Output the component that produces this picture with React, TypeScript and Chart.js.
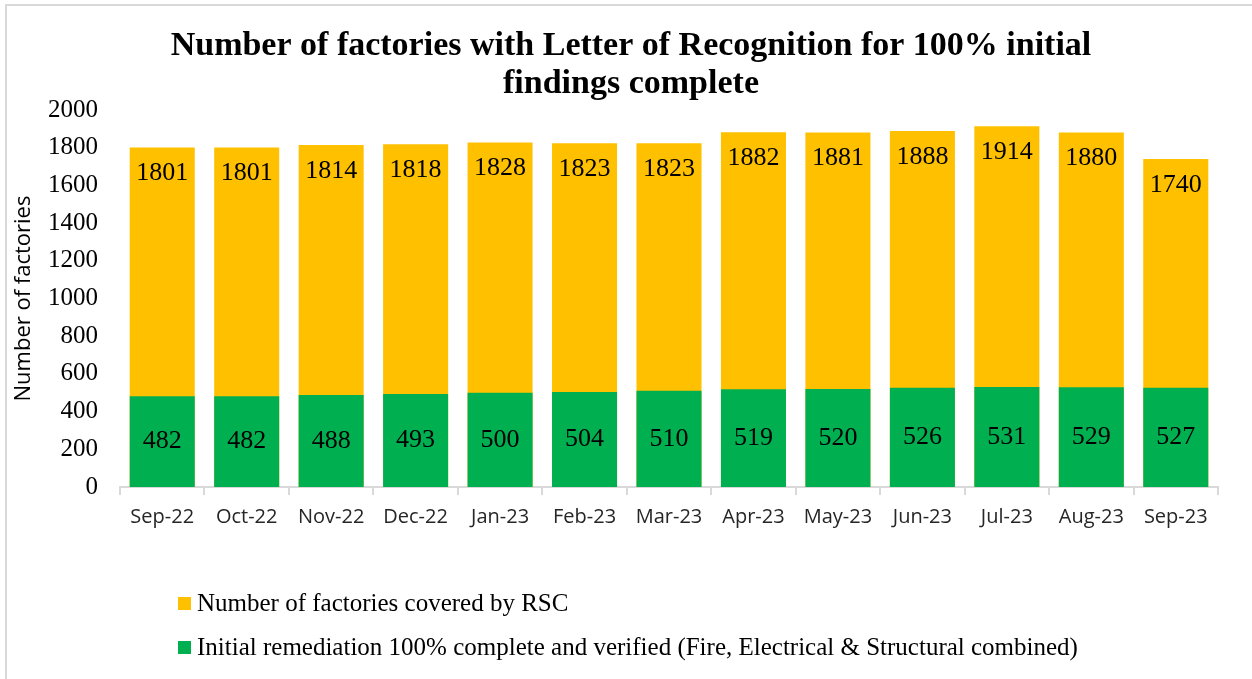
import { useEffect, useRef } from "react";
import { Chart, registerables } from "chart.js";

Chart.register(...registerables);

const categories = [
  "Sep-22", "Oct-22", "Nov-22", "Dec-22", "Jan-23", "Feb-23", "Mar-23",
  "Apr-23", "May-23", "Jun-23", "Jul-23", "Aug-23", "Sep-23",
];
const coveredByRSC = [1801, 1801, 1814, 1818, 1828, 1823, 1823, 1882, 1881, 1888, 1914, 1880, 1740];
const remediationComplete = [482, 482, 488, 493, 500, 504, 510, 519, 520, 526, 531, 529, 527];
const titleLines = [
  "Number of factories with Letter of Recognition for 100% initial",
  "findings complete",
];
const yAxisTitle = "Number of factories";
const legendLabels = [
  "Number of factories covered by RSC",
  "Initial remediation 100% complete and verified (Fire, Electrical & Structural combined)",
];
const YELLOW = "#FFC000";
const GREEN = "#00B050";
const SERIF = '"Liberation Serif", "DejaVu Serif", serif';
const SANS = '"Open Sans", "Noto Sans", sans-serif';

const decorPlugin = {
  id: "decor",
  beforeDraw(chart: any) {
    const ctx = chart.ctx;
    ctx.save();
    ctx.fillStyle = "#ffffff";
    ctx.fillRect(0, 0, chart.width, chart.height);
    ctx.fillStyle = "#d9d9d9";
    ctx.fillRect(5, 4, 2, chart.height - 4);
    ctx.fillRect(5, 4, chart.width - 5, 2);
    ctx.restore();
  },
  afterDraw(chart: any) {
    const ctx = chart.ctx;
    ctx.save();
    // title
    ctx.fillStyle = "#000000";
    ctx.textAlign = "center";
    ctx.textBaseline = "middle";
    ctx.font = `bold 34px ${SERIF}`;
    const cx = 631;
    titleLines.forEach((line, i) => {
      ctx.fillText(line, cx, 46 + i * 38);
    });
    // legend
    const colors = [YELLOW, GREEN];
    const ys = [604, 648];
    ctx.textAlign = "left";
    ctx.font = `25px ${SERIF}`;
    legendLabels.forEach((label, i) => {
      ctx.fillStyle = colors[i];
      ctx.fillRect(178, ys[i] - 7, 13, 13);
      ctx.fillStyle = "#000000";
      ctx.fillText(label, 197, ys[i]);
    });
    ctx.restore();
  },
  afterDatasetsDraw(chart: any) {
    const ctx = chart.ctx;
    ctx.save();
    ctx.fillStyle = "#000000";
    ctx.textAlign = "center";
    ctx.textBaseline = "middle";
    ctx.font = `26px ${SERIF}`;
    const green = chart.getDatasetMeta(0);
    const yellow = chart.getDatasetMeta(1);
    green.data.forEach((el: any, i: number) => {
      ctx.fillText(String(remediationComplete[i]), el.x, (el.y + el.base) / 2);
    });
    yellow.data.forEach((el: any, i: number) => {
      ctx.fillText(String(coveredByRSC[i]), el.x, el.y + 26);
    });
    ctx.restore();
  },
};

export default function App() {
  const ref = useRef<HTMLCanvasElement>(null);
  useEffect(() => {
    if (!ref.current) return;
    const chart = new Chart(ref.current, {
      type: "bar",
      data: {
        labels: categories,
        datasets: [
          {
            label: legendLabels[1],
            data: remediationComplete,
            backgroundColor: GREEN,
            categoryPercentage: 1,
            barPercentage: 0.77,
          },
          {
            label: legendLabels[0],
            data: coveredByRSC,
            backgroundColor: YELLOW,
            categoryPercentage: 1,
            barPercentage: 0.77,
          },
        ],
      },
      options: {
        animation: false,
        responsive: false,
        maintainAspectRatio: false,
        layout: { padding: { top: 110, right: 34, bottom: 142, left: 0 } },
        plugins: {
          legend: { display: false },
          title: { display: false },
          tooltip: { enabled: false },
        },
        scales: {
          x: {
            stacked: true,
            offset: true,
            grid: {
              display: true,
              offset: true,
              drawOnChartArea: false,
              drawTicks: true,
              tickLength: 8,
              color: "#d9d9d9",
              lineWidth: 2,
            },
            border: { display: true, color: "#d9d9d9", width: 2 },
            ticks: {
              color: "#262626",
              font: { family: SANS, size: 20 },
              padding: 10,
              maxRotation: 0,
              autoSkip: false,
            },
            afterFit: (s: any) => {
              s.height = 50;
            },
          },
          y: {
            stacked: false,
            min: 0,
            max: 2000,
            grid: { display: false, drawTicks: false },
            border: { display: false },
            ticks: {
              stepSize: 200,
              color: "#000000",
              font: { family: SERIF, size: 25 },
              padding: 22,
              callback: (v: any) => String(v),
            },
            title: {
              display: true,
              text: yAxisTitle,
              color: "#000000",
              font: { family: SANS, size: 22 },
              padding: { top: 11, bottom: 0 },
            },
            afterFit: (s: any) => {
              s.width = 120;
            },
          },
        },
      },
      plugins: [decorPlugin],
    });
    return () => chart.destroy();
  }, []);
  return (
    <div style={{ position: "absolute", left: 0, top: 0, width: 1252, height: 679 }}>
      <canvas ref={ref} width={1252} height={679} style={{ display: "block" }} />
    </div>
  );
}
